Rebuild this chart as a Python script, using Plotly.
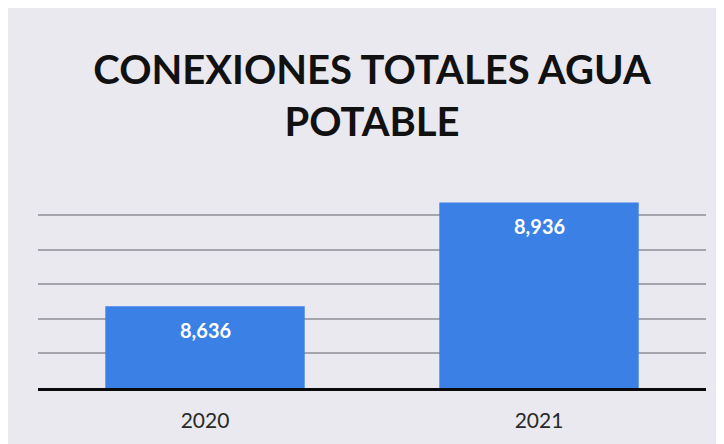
import plotly.graph_objects as go

years = ["2020", "2021"]
connections = [8636, 8936]
title_lines = ["CONEXIONES TOTALES AGUA", "POTABLE"]

# page body has an 8px margin, which gives the white strip at top/left
W, H = 716, 436
ml, mr, mt, mb = 30, 18, 182, 56

bar_color = "#3b80e4"
bg = "#e9e9ef"
font_family = "Lato, 'Open Sans', sans-serif"

fig = go.Figure()
fig.add_trace(go.Bar(
    x=years, y=connections,
    marker=dict(color=bar_color, line=dict(width=0)),
    hoverinfo="x+y",
))

# value labels (category axis: annotation x is the category index)
for i, v in enumerate(connections):
    fig.add_annotation(
        x=i, y=v, xref="x", yref="y",
        text=f"<b>{v:,}</b>", showarrow=False,
        yshift=-24, font=dict(family=font_family, size=20, color="white"),
    )

fig.update_layout(
    width=W, height=H,
    margin=dict(l=ml, r=mr, t=mt, b=mb, pad=0),
    paper_bgcolor=bg,
    plot_bgcolor="rgba(0,0,0,0)",
    showlegend=False,
    bargap=0.403,
    title=dict(
        text="<br>".join(f"<b>{t}</b>" for t in title_lines),
        x=0.5, xanchor="center", xref="paper",
        y=1 - 76 / H, yanchor="top", yref="container",
        font=dict(family=font_family, size=40, color="#111111"),
    ),
    xaxis=dict(
        type="category",
        showline=True, linecolor="#0a0a0a", linewidth=3,
        showgrid=False, ticks="", ticklabelstandoff=12,
        tickfont=dict(family=font_family, size=21, color="#2a2a2a"),
    ),
    yaxis=dict(
        range=[8400, 8972], dtick=100, tick0=8400,
        showticklabels=False, showgrid=True, gridcolor="#a4a4ac", gridwidth=1.5,
        zeroline=False, showline=False, ticks="",
    ),
)

fig.write_html("out.html")
